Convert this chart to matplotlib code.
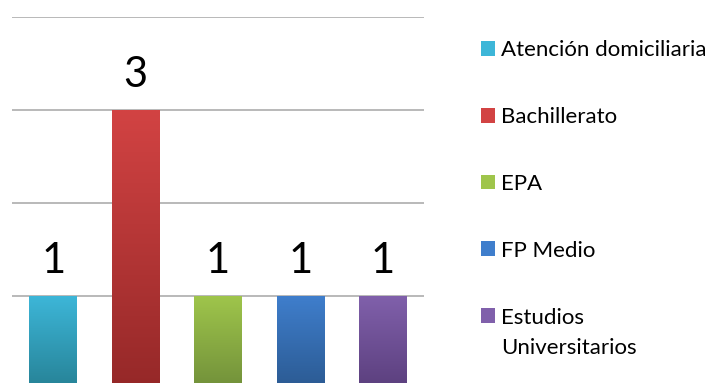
import numpy as np
import matplotlib.pyplot as plt
from matplotlib.colors import LinearSegmentedColormap

# data
categories = ["Atención domiciliaria", "Bachillerato", "EPA", "FP Medio",
              "Estudios Universitarios"]
values = [1, 3, 1, 1, 1]
top_colors = ["#3db6d8", "#d24343", "#9fc54b", "#3f7ecc", "#8060ab"]
bottom_colors = ["#268296", "#952828", "#71903a", "#2b5a92", "#5b3f7d"]

plt.rcParams['font.family'] = ['Lato', 'DejaVu Sans']

fig = plt.figure(figsize=(7.08, 3.83), dpi=100)
# axis baseline sits just below the visible picture
ax = fig.add_axes([12 / 708, -5.5 / 383, 412 / 708, 372 / 383])

x = np.arange(len(categories))
bars = ax.bar(x, values, width=0.58, color=top_colors, label=categories,
              zorder=2, linewidth=0)

# vertical gradient inside every bar
grad = np.linspace(0, 1, 256).reshape(-1, 1)
for b, c_top, c_bot in zip(bars, top_colors, bottom_colors):
    cmap = LinearSegmentedColormap.from_list("g", [c_bot, c_top])
    x0, y0 = b.get_x(), b.get_y()
    w, h = b.get_width(), b.get_height()
    im = ax.imshow(grad, cmap=cmap, origin="lower", aspect="auto",
                   extent=[x0, x0 + w, y0, y0 + h], zorder=3)
    im.set_clip_path(b)

for xi, v in zip(x, values):
    ax.text(xi, v + 0.17, str(v), ha="center", va="bottom", fontsize=30,
            color="black")

ax.set_xlim(-0.5, len(categories) - 0.5)
ax.set_ylim(0, 4)
ax.set_yticks([0, 1, 2, 3, 4])
ax.yaxis.grid(True, color="#a6a6a6", linewidth=1.1, zorder=0)
ax.set_xticks([])
ax.tick_params(left=False, labelleft=False)
for s in ax.spines.values():
    s.set_visible(False)

# last label wraps onto a second line below its marker, as in the original
first_words = [c.split(" ")[0] if i == len(categories) - 1 else c
               for i, c in enumerate(categories)]
leg = fig.legend(handles=bars, labels=first_words, loc="upper left",
                 bbox_to_anchor=(481 / 708, 1 - 40 / 383), frameon=False,
                 fontsize=16, handlelength=0.65, handleheight=0.65,
                 handletextpad=0.25, labelspacing=2.11, borderpad=0,
                 borderaxespad=0)

fig.canvas.draw()
last = leg.get_texts()[-1].get_window_extent()
fig.text(last.x0 / fig.bbox.width, (last.y0 - 30) / fig.bbox.height,
         categories[-1].split(" ", 1)[1], fontsize=16, ha="left",
         va="bottom")

fig.savefig("out.png", dpi=100)
